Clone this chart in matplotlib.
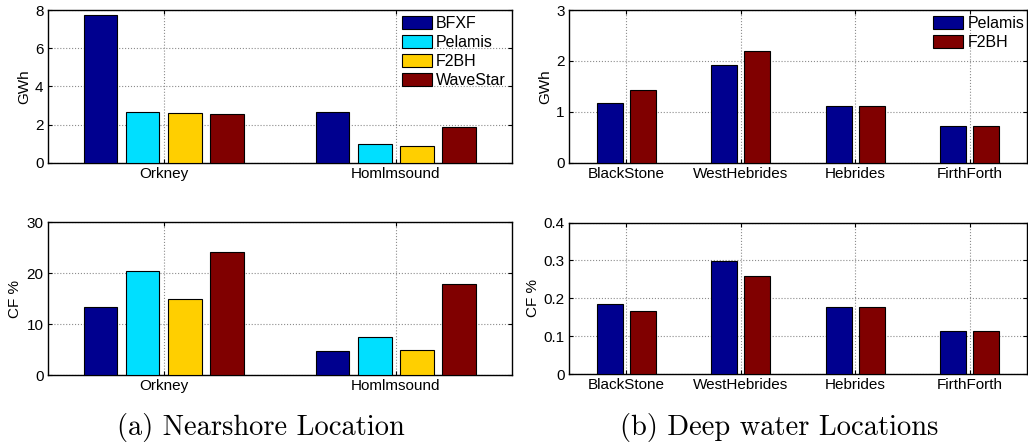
import matplotlib
matplotlib.use("Agg")
from matplotlib import pyplot as plt
import numpy as np

# nearshore locations
near_sites = ["Orkney", "Homlmsound"]
near_devices = ["BFXF", "Pelamis", "F2BH", "WaveStar"]
near_gwh = {
    "BFXF": [7.74, 2.67],
    "Pelamis": [2.64, 0.96],
    "F2BH": [2.59, 0.87],
    "WaveStar": [2.53, 1.87],
}
near_cf = {
    "BFXF": [13.4, 4.8],
    "Pelamis": [20.4, 7.5],
    "F2BH": [15.0, 4.9],
    "WaveStar": [24.2, 17.8],
}

# deep water locations
deep_sites = ["BlackStone", "WestHebrides", "Hebrides", "FirthForth"]
deep_devices = ["Pelamis", "F2BH"]
deep_gwh = {
    "Pelamis": [1.17, 1.91, 1.11, 0.73],
    "F2BH": [1.43, 2.19, 1.11, 0.73],
}
deep_cf = {
    "Pelamis": [0.184, 0.298, 0.176, 0.114],
    "F2BH": [0.166, 0.258, 0.176, 0.114],
}

near_colors = ["#00008F", "#00DFFF", "#FFCF00", "#800000"]
deep_colors = ["#00008F", "#800000"]

plt.rcParams['font.family'] = ['Liberation Sans', 'DejaVu Sans']


def grouped_bars(ax, sites, devices, data, colors, ylim, yticks, ylabel):
    n = len(devices)
    x = np.arange(1, len(sites) + 1)
    group_w = min(0.8, n / (n + 1.5))
    w = group_w / n * 0.8
    step = group_w / n
    for i, dev in enumerate(devices):
        offset = (i - (n - 1) / 2) * step
        ax.bar(x + offset, data[dev], w, color=colors[i], edgecolor='k',
               linewidth=0.8, label=dev, zorder=3)
    ax.set_xlim(0.5, len(sites) + 0.5)
    ax.set_ylim(*ylim)
    ax.set_yticks(yticks)
    ax.set_xticks(x)
    ax.set_xticklabels(sites)
    ax.set_ylabel(ylabel, fontsize=11, labelpad=3)
    ax.grid(True, linestyle=':', color='0.55', linewidth=0.8, zorder=0)
    ax.tick_params(direction='in', top=True, right=True, labelsize=11,
                   length=3, pad=3)
    for s in ax.spines.values():
        s.set_linewidth(1.0)


fig = plt.figure(figsize=(10.28, 4.47), dpi=100)
ax1 = fig.add_axes([0.0464, 0.636, 0.4514, 0.3416])
ax2 = fig.add_axes([0.0464, 0.161, 0.4514, 0.342])
ax3 = fig.add_axes([0.5535, 0.636, 0.4455, 0.3416])
ax4 = fig.add_axes([0.5535, 0.163, 0.4455, 0.339])

grouped_bars(ax1, near_sites, near_devices, near_gwh, near_colors,
             (0, 8), [0, 2, 4, 6, 8], "GWh")
grouped_bars(ax2, near_sites, near_devices, near_cf, near_colors,
             (0, 30), [0, 10, 20, 30], "CF %")
grouped_bars(ax3, deep_sites, deep_devices, deep_gwh, deep_colors,
             (0, 3), [0, 1, 2, 3], "GWh")
grouped_bars(ax4, deep_sites, deep_devices, deep_cf, deep_colors,
             (0, 0.4), [0, 0.1, 0.2, 0.3, 0.4], "CF %")
ax4.set_yticklabels(["0", "0.1", "0.2", "0.3", "0.4"])

ax1.legend(loc='upper left', bbox_to_anchor=(0.763, 0.96), frameon=False,
           fontsize=11.5, handlelength=1.9, handleheight=0.85,
           handletextpad=0.25, labelspacing=0.25, borderpad=0,
           borderaxespad=0)
ax3.legend(loc='upper left', bbox_to_anchor=(0.795, 0.96), frameon=False,
           fontsize=11.5, handlelength=1.9, handleheight=0.85,
           handletextpad=0.25, labelspacing=0.25, borderpad=0,
           borderaxespad=0)

fig.text(261 / 1028, 1 - 427 / 447, "(a) Nearshore Location", ha='center',
         va='center', fontsize=20.5, family='cmr10')
fig.text(779 / 1028, 1 - 427 / 447, "(b) Deep water Locations", ha='center',
         va='center', fontsize=20.5, family='cmr10')

fig.savefig("out.png", dpi=100)
